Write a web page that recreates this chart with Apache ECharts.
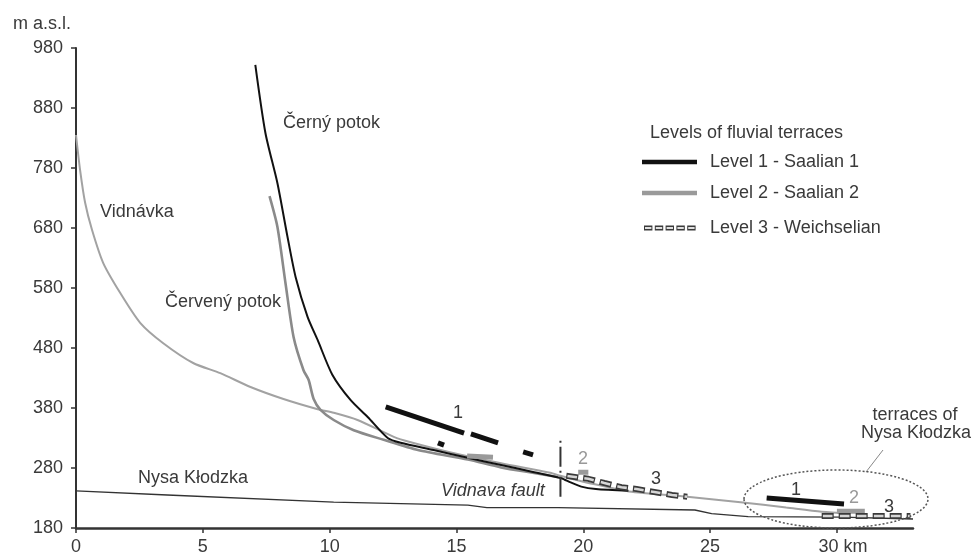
<!DOCTYPE html>
<html>
<head>
<meta charset="utf-8">
<script src="https://cdn.jsdelivr.net/npm/echarts@6/dist/echarts.min.js"></script>
<style>html,body{margin:0;padding:0;background:#fff}#c{width:976px;height:557px}</style>
</head>
<body>
<div id="c"></div>
<script>
// ---- data (km, m a.s.l.) ----
const xTicks = [0, 5, 10, 15, 20, 25, 30];
const yTicks = [180, 280, 380, 480, 580, 680, 780, 880, 980];
const cernyPotok = [[7.07,952],[7.47,838],[7.94,755],[8.34,665],[8.66,598],[9.13,532],[9.53,493],[10.1,436],[10.83,393],[11.5,365],[12.29,330],[12.8,322],[14.1,310],[15.45,297],[16.76,285],[18.06,273],[19.13,263],[19.5,256],[19.92,249],[20.5,245],[21.78,242]];
const cervenyPotok = [[7.63,733],[7.94,682],[8.26,588],[8.58,498],[8.97,443],[9.17,427],[9.37,395],[9.64,377],[10.16,360],[10.95,343],[12.13,327],[13.48,310],[15.45,294],[16.76,281],[18,272],[19,265]];
const vidnavka = [[0,835],[0.16,777],[0.36,722],[0.63,677],[1.07,622],[1.74,572],[2.53,522],[3.44,488],[4.62,455],[5.69,438],[6.88,415],[8.18,395],[9.53,378],[10.16,372],[11.1,360],[12.53,332],[13.2,323],[14.78,306],[16.76,288],[18.7,272],[19.1,267],[20,257],[21,248],[21.8,241],[24.1,232],[26.2,223],[28,214],[29.4,207],[30.5,204]];
const nysaKlodzka = [[0,242],[3.6,235],[10.16,223],[15.45,218],[16.2,214],[19,214],[24.4,210],[25.06,204],[26.5,199],[30.2,198],[33,195]];
const level1 = [
  [[12.21,382],[15.30,338]],
  [[15.57,337],[16.64,322]],
  [[14.27,322],[14.51,318]],
  [[17.63,307],[18.02,302]],
  [[27.23,230],[30.28,220]]
];
const level2 = [
  [[15.42,300],[16.44,298]],
  [[19.8,273],[20.2,273]],
  [[30.0,208],[31.1,208]]
];
const level3 = [
  [[19.33,267],[20.2,262],[20.83,255],[21.5,248],[22.1,245],[22.8,240],[23.5,235],[24.1,232]],
  [[29.4,200],[32.9,200]]
];
const vidnavaFault = [[19.1,232],[19.1,327]];

const FONT = 'Liberation Sans, Arial, sans-serif';
const TXT = '#3a3a3a';

function segSeries(name, segs, lineStyle, z) {
  return segs.map(s => ({
    name: name, type: 'line', data: s, showSymbol: false, symbol: 'none',
    lineStyle: lineStyle, z: z, silent: true
  }));
}

const series = [
  {name:'Nysa Kłodzka', type:'line', data:nysaKlodzka, symbol:'none', lineStyle:{color:'#333', width:1.3}, z:2},
  {name:'Vidnávka', type:'line', data:vidnavka, symbol:'none', smooth:0.25, lineStyle:{color:'#a2a2a2', width:2}, z:3},
  {name:'Červený potok', type:'line', data:cervenyPotok, symbol:'none', smooth:0.25, lineStyle:{color:'#8a8a8a', width:2.6}, z:4},
  {name:'Černý potok', type:'line', data:cernyPotok, symbol:'none', smooth:0.25, lineStyle:{color:'#111', width:2}, z:5},
  {name:'Vidnava fault', type:'line', data:vidnavaFault, symbol:'none', lineStyle:{color:'#333', width:2, type:[20,4,2,4]}, z:6}
].concat(
  segSeries('Level 1 - Saalian 1', level1, {color:'#111', width:5, cap:'butt'}, 7),
  segSeries('Level 2 - Saalian 2', level2, {color:'#9a9a9a', width:5, cap:'butt'}, 7),
  segSeries('Level 3 - Weichselian', level3, {color:'#3a3a3a', width:6, type:[12,5], cap:'butt'}, 8),
  segSeries('Level 3 - Weichselian', level3, {color:'#d6d6d6', width:2.6, type:[9.6,7.4], dashOffset:-1.2, cap:'butt'}, 9)
);

function txt(x, y, s, opts) {
  return Object.assign({type:'text', x:x, y:y, z:100, style:Object.assign({text:s, font:'18px ' + FONT, fill:TXT, textVerticalAlign:'middle'}, opts || {})});
}

const graphic = [
  txt(13, 24, 'm a.s.l.'),
  // legend
  txt(650, 133, 'Levels of fluvial terraces'),
  {type:'line', shape:{x1:642,y1:162,x2:697,y2:162}, style:{stroke:'#111', lineWidth:4.5}},
  txt(710, 162, 'Level 1 - Saalian 1'),
  {type:'line', shape:{x1:642,y1:193,x2:697,y2:193}, style:{stroke:'#9a9a9a', lineWidth:4.5}},
  txt(710, 193, 'Level 2 - Saalian 2'),
  {type:'line', shape:{x1:644,y1:228,x2:698,y2:228}, style:{stroke:'#3a3a3a', lineWidth:5, lineDash:[8.4,2.4]}},
  {type:'line', shape:{x1:644,y1:228,x2:698,y2:228}, style:{stroke:'#e0e0e0', lineWidth:2, lineDash:[6.4,4.4], lineDashOffset:-1}},
  txt(710, 228, 'Level 3 - Weichselian'),
  // river names
  txt(283, 123, 'Černý potok'),
  txt(100, 212, 'Vidnávka'),
  txt(165, 302, 'Červený potok'),
  txt(138, 478, 'Nysa Kłodzka'),
  txt(441, 491, 'Vidnava fault', {font:'italic 18px ' + FONT}),
  // terrace numbers
  txt(453, 413, '1'),
  txt(578, 459, '2', {fill:'#999'}),
  txt(651, 479, '3'),
  txt(791, 490, '1'),
  txt(849, 498, '2', {fill:'#999'}),
  txt(884, 507, '3'),
  // Nysa terraces annotation
  txt(915, 415, 'terraces of', {textAlign:'center'}),
  txt(916, 433, 'Nysa Kłodzka', {textAlign:'center'}),
  {type:'line', shape:{x1:883,y1:450,x2:866,y2:472}, style:{stroke:'#888', lineWidth:1}},
  {type:'ellipse', shape:{cx:836, cy:499, rx:92, ry:29}, style:{fill:'none', stroke:'#555', lineWidth:1.5, lineDash:[2,2]}, z:50}
];

const chart = echarts.init(document.getElementById('c'), null, {renderer:'canvas'});
chart.setOption({
  animation: false,
  backgroundColor: '#fff',
  grid: {left:76, right:63, top:48, bottom:29},
  xAxis: {
    type:'value', min:0, max:33, interval:5,
    splitLine:{show:false},
    axisLine:{show:true, lineStyle:{color:'#333', width:2.5}},
    axisTick:{show:true, length:5, customValues:xTicks, lineStyle:{color:'#333', width:1.5}},
    axisLabel:{customValues:xTicks, margin:10, color:TXT, fontSize:18, fontFamily:FONT,
      formatter: v => v === 30 ? '{k|30 km}' : String(v),
      rich:{k:{fontSize:18, fontFamily:FONT, color:TXT, padding:[0,0,0,12]}}}
  },
  yAxis: {
    type:'value', min:180, max:980, interval:100,
    splitLine:{show:false},
    axisLine:{show:true, lineStyle:{color:'#333', width:2}},
    axisTick:{show:true, length:5, customValues:yTicks, lineStyle:{color:'#333', width:1.5}},
    axisLabel:{customValues:yTicks, margin:13, color:TXT, fontSize:18, fontFamily:FONT}
  },
  series: series,
  graphic: graphic
});
</script>
</body>
</html>
